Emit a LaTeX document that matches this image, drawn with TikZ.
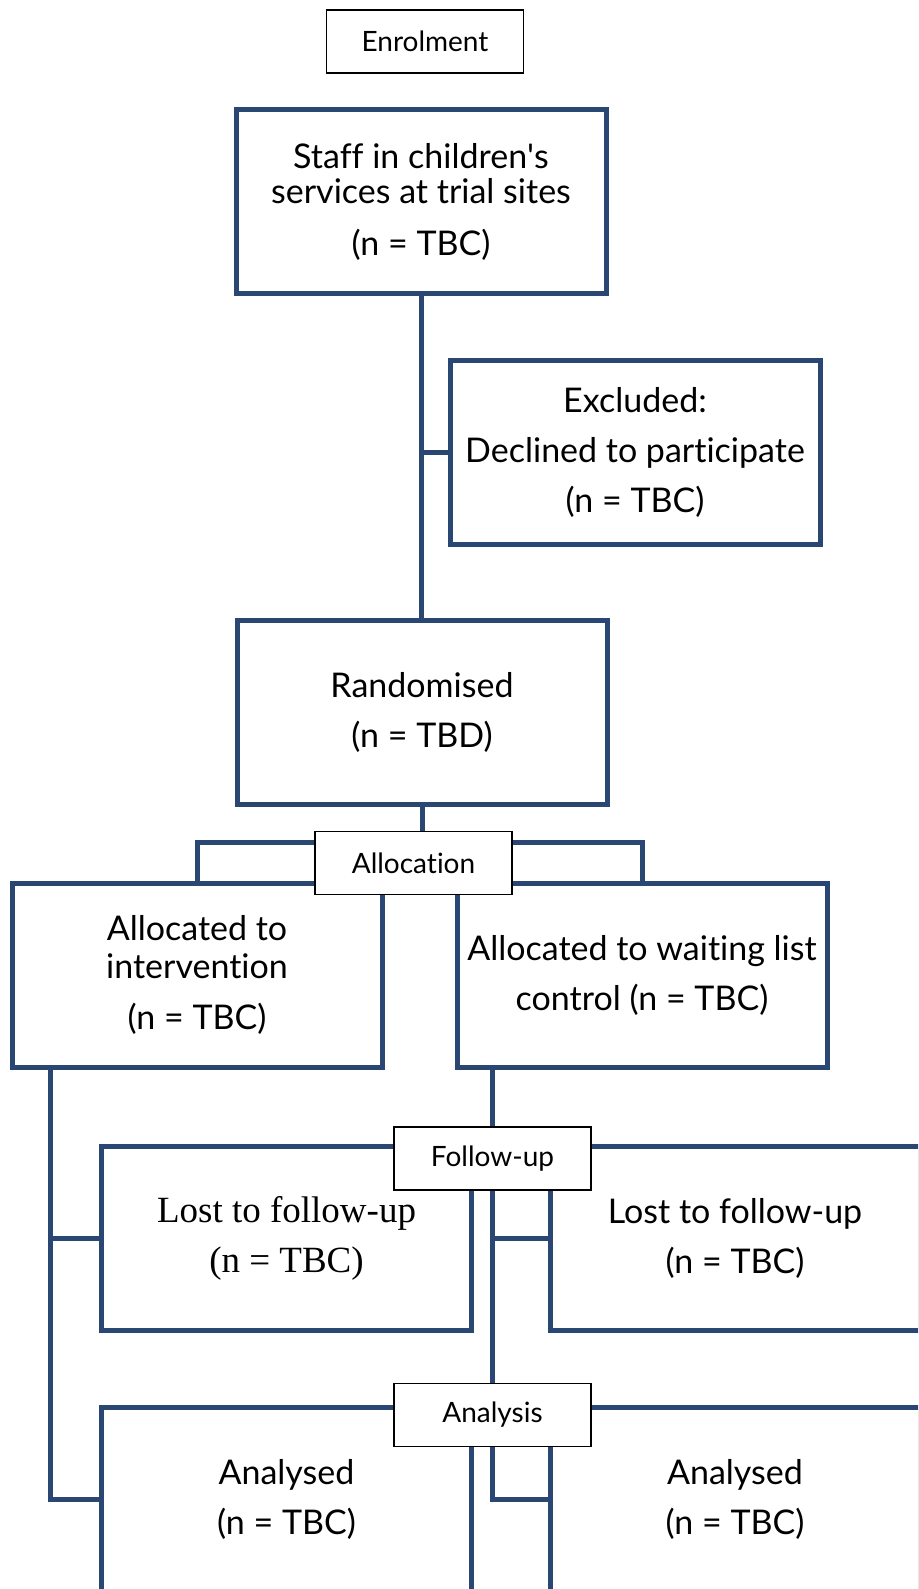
\documentclass[tikz,border=0pt]{standalone}
\usepackage{fontspec}
\setmainfont{Lato}[Ligatures={TeX,NoCommon}]
\newfontfamily\lostfont{Liberation Serif}
\usepackage{tikz}
\usetikzlibrary{positioning,backgrounds}
\definecolor{navy}{HTML}{2A4672}
\tikzset{
  % stage boxes of the flow: thick navy frame
  box/.style={draw=navy, fill=white, line width=5pt, align=center, inner sep=0pt,
              minimum width=370pt, minimum height=184pt, font=\fontsize{34}{50}\selectfont},
  % phase labels sit over the links
  phase/.style={draw=black, fill=white, line width=1.6pt, inner sep=0pt,
                minimum width=197pt, minimum height=63pt, font=\fontsize{28}{34}\selectfont},
  link/.style={draw=navy, line width=5pt},
}

\begin{document}
\begin{tikzpicture}[x=1pt,y=-1pt]
  \useasboundingbox (0,0) rectangle (918,1589);
  \clip (0,0) rectangle (918,1589);

  % enrolment
  \node[phase] (enrol) at (425,41.5) {Enrolment};
  \node[box, font=\fontsize{34}{35}\selectfont] (staff) at (421,201.5)
    {Staff in children\textquotesingle s\\services at trial sites\\[17pt](n = TBC)};
  \node[box] (excl) at (635,452) {Excluded:\\Declined to participate\\(n = TBC)};
  \node[box] (rand) at (422,712.5) {Randomised\\(n = TBD)};

  % allocation
  \node[box, font=\fontsize{34}{38}\selectfont] (armint) at (197,975)
    {Allocated to\\intervention\\[13pt](n = TBC)};
  \node[box] (armwait) at (642,975) {Allocated to waiting list\\control (n = TBC)};
  \node[phase] (alloc) at (413.5,863) {Allocation};

  % follow-up and analysis
  \node[box, font=\lostfont\fontsize{37}{50}\selectfont] (lostint) at (286.5,1238.5)
    {Lost to follow-up\\(n = TBC)};
  \node[box] (lostwait) at (735,1238.5) {Lost to follow-up\\(n = TBC)};
  \node[box] (anaint) at (286.5,1499) {Analysed\\(n = TBC)};
  \node[box] (anawait) at (735,1499) {Analysed\\(n = TBC)};
  \node[phase] (fup) at (492.5,1158.5) {Follow-up};
  \node[phase] (ana) at (492.5,1415) {Analysis};

  \coordinate (lspine) at (50,1499);

  \begin{scope}[on background layer]
    \fill[white] (0,0) rectangle (918,1589);
    \draw[link] (staff.south) -- (staff.south |- rand.north);
    \draw[link] (staff.south |- excl.west) -- (excl.west);
    \draw[link] (rand.south) -- (rand.south |- alloc.north);
    \draw[link] (armint.north) -- ++(0,-38) -| (armwait.north);
    \draw[link] (armint.south -| lspine) |- (anaint.west);
    \draw[link] (lspine |- lostint.west) -- (lostint.west);
    \draw[link] (armwait.south -| ana) |- (anawait.west);
    \draw[link] (ana |- lostwait.west) -- (lostwait.west);
  \end{scope}
\end{tikzpicture}
\end{document}
